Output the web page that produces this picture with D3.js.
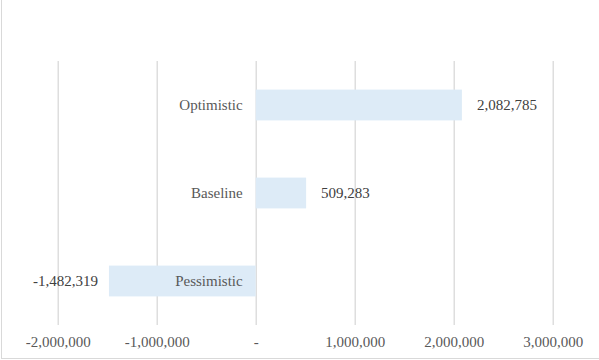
<!DOCTYPE html>
<html>
<head>
<meta charset="utf-8">
<script src="https://cdn.jsdelivr.net/npm/d3@7"></script>
<style>
  html, body { margin: 0; padding: 0; background: #fff; }
  svg { display: block; }
</style>
</head>
<body>
<svg id="chart" width="599" height="360"></svg>
<script>
// Scenario outcomes
const scenarios = ["Optimistic", "Baseline", "Pessimistic"];
const values = [2082785, 509283, -1482319];

// Horizontal axis ticks and their printed labels
const tickValues = [-2000000, -1000000, 0, 1000000, 2000000, 3000000];
const tickLabels = ["-2,000,000", "-1,000,000", "-", "1,000,000", "2,000,000", "3,000,000"];

const svg = d3.select("#chart");
const font = "'Liberation Serif', 'Times New Roman', serif";
const textColor = "#595959";

// Chart frame
svg.append("rect")
  .attr("x", 1.5).attr("y", -10)
  .attr("width", 640).attr("height", 368.5)
  .attr("fill", "none")
  .attr("stroke", "#d9d9d9")
  .attr("stroke-width", 1);

const plot = { left: 57.7, right: 552.7, top: 61, bottom: 325 };

const x = d3.scaleLinear()
  .domain([-2000000, 3000000])
  .range([plot.left, plot.right]);

const y = d3.scaleBand()
  .domain(scenarios)
  .range([plot.top, plot.bottom])
  .paddingInner(0.65)
  .paddingOuter(0.325);

// Vertical gridlines + tick labels
const axis = d3.axisBottom(x)
  .tickValues(tickValues)
  .tickFormat((d, i) => tickLabels[i])
  .tickSize(-(plot.bottom - plot.top))
  .tickPadding(11);

const gAxis = svg.append("g")
  .attr("transform", `translate(0,${plot.bottom})`)
  .call(axis);
gAxis.select(".domain").remove();
gAxis.selectAll(".tick line")
  .attr("stroke", "#d9d9d9")
  .attr("stroke-width", 1.3);
gAxis.selectAll(".tick text")
  .attr("fill", textColor)
  .style("font-family", font)
  .style("font-size", "15px");

// Bars
svg.append("g").selectAll("rect")
  .data(scenarios)
  .join("rect")
  .attr("x", (d, i) => x(Math.min(0, values[i])))
  .attr("y", d => y(d))
  .attr("width", (d, i) => Math.abs(x(values[i]) - x(0)))
  .attr("height", y.bandwidth())
  .attr("fill", "#ddebf7");

// Category labels next to the zero line
svg.append("g").selectAll("text")
  .data(scenarios)
  .join("text")
  .attr("x", x(0) - 13)
  .attr("y", d => y(d) + y.bandwidth() / 2)
  .attr("dy", "0.35em")
  .attr("text-anchor", "end")
  .attr("fill", textColor)
  .style("font-family", font)
  .style("font-size", "15px")
  .text(d => d);

// Value labels at bar ends
const fmt = d3.format(",");
svg.append("g").selectAll("text")
  .data(scenarios)
  .join("text")
  .attr("x", (d, i) => values[i] >= 0 ? x(values[i]) + 15 : x(values[i]) - 11)
  .attr("y", d => y(d) + y.bandwidth() / 2)
  .attr("dy", "0.35em")
  .attr("text-anchor", (d, i) => values[i] >= 0 ? "start" : "end")
  .attr("fill", "#404040")
  .style("font-family", font)
  .style("font-size", "15px")
  .text((d, i) => fmt(values[i]).replace("−", "-"));
</script>
</body>
</html>
